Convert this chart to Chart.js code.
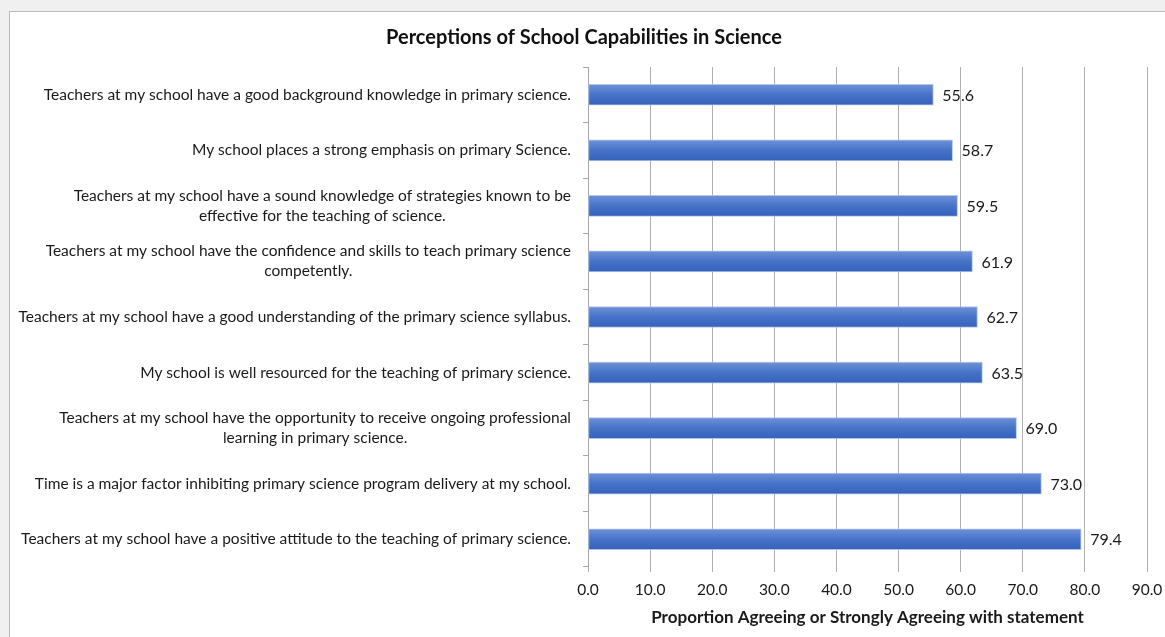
<!DOCTYPE html>
<html>
<head>
<meta charset="utf-8">
<script src="https://cdn.jsdelivr.net/npm/chart.js@4.4.1/dist/chart.umd.min.js"></script>
<style>
  html, body { margin: 0; padding: 0; background: #f0f0f0; width: 1165px; height: 637px; overflow: hidden; }
  #frame { position: absolute; left: 9px; top: 11px; right: 0; bottom: 0; background: #fff;
           border-left: 1px solid #b9b9b9; border-top: 1px solid #b9b9b9; }
  #wrap { position: absolute; left: 10px; top: 12px; width: 1155px; height: 625px; }
</style>
</head>
<body>
<div id="frame"></div>
<div id="wrap"><canvas id="chart" width="1155" height="625"></canvas></div>
<script>
// statements, top to bottom
const categories = [
    'Teachers at my school have a good background knowledge in primary science.',
    'My school places a strong emphasis on primary Science.',
    ['Teachers at my school have a sound knowledge of strategies known to be', 'effective for the teaching of science.'],
    ['Teachers at my school have the confidence and skills to teach primary science', 'competently.'],
    'Teachers at my school have a good understanding of the primary science syllabus.',
    'My school is well resourced for the teaching of primary science.',
    ['Teachers at my school have the opportunity to receive ongoing professional', 'learning in primary science.'],
    'Time is a major factor inhibiting primary science program delivery at my school.',
    'Teachers at my school have a positive attitude to the teaching of primary science.'
];
const values = [55.6, 58.7, 59.5, 61.9, 62.7, 63.5, 69.0, 73.0, 79.4];
const xTicks = [0, 10, 20, 30, 40, 50, 60, 70, 80, 90];

const FONT = 'Lato, "Open Sans", sans-serif';
const BAR_H = 21;

// vertical gradient per bar, like the office "shaded" fill
function barFill(ctx) {
    const chart = ctx.chart;
    const y = chart.scales.y;
    if (!chart.chartArea || !y || ctx.type !== 'data') return '#4472c4';
    const c = y.getPixelForValue(ctx.dataIndex);
    const g = chart.ctx.createLinearGradient(0, c - BAR_H / 2, 0, c + BAR_H / 2);
    g.addColorStop(0, '#6f91d8');
    g.addColorStop(0.5, '#4673c8');
    g.addColorStop(1, '#3561bb');
    return g;
}

// category text: each label block right-aligned, its lines centred
const categoryLabels = {
    id: 'categoryLabels',
    afterDraw(chart) {
        const y = chart.scales.y;
        const ctx = chart.ctx;
        ctx.save();
        ctx.font = '15.5px ' + FONT;
        ctx.fillStyle = '#1a1a1a';
        ctx.textAlign = 'center';
        ctx.textBaseline = 'middle';
        const right = y.right - 17;
        categories.forEach((lab, i) => {
            const lines = Array.isArray(lab) ? lab : [lab];
            const w = Math.max(...lines.map(l => ctx.measureText(l).width));
            const cx = right - w / 2;
            const c = y.getPixelForValue(i);
            lines.forEach((l, k) => ctx.fillText(l, cx, c + (k - (lines.length - 1) / 2) * 20));
        });
        ctx.restore();
    }
};

const valueLabels = {
    id: 'valueLabels',
    afterDatasetsDraw(chart) {
        const ctx = chart.ctx;
        const meta = chart.getDatasetMeta(0);
        ctx.save();
        ctx.font = '16px ' + FONT;
        ctx.fillStyle = '#1a1a1a';
        ctx.textAlign = 'left';
        ctx.textBaseline = 'middle';
        meta.data.forEach((bar, i) => ctx.fillText(values[i].toFixed(1), bar.x + 9, bar.y + 1));
        ctx.restore();
    }
};

new Chart(document.getElementById('chart'), {
    type: 'bar',
    data: {
        labels: categories,
        datasets: [{
            data: values,
            backgroundColor: barFill,
            borderColor: 'rgba(170, 192, 235, 0.9)',
            borderWidth: 1,
            borderSkipped: false,
            barThickness: BAR_H
        }]
    },
    options: {
        indexAxis: 'y',
        responsive: false,
        animation: false,
        devicePixelRatio: 1,
        layout: { padding: { left: 11, right: 18, top: 0, bottom: 7.4 } },
        scales: {
            x: {
                min: 0,
                max: 90,
                afterBuildTicks: (scale) => { scale.ticks = xTicks.map(v => ({ value: v })); },
                afterFit: (scale) => { scale.paddingLeft = 0; scale.paddingRight = 0; },
                ticks: {
                    callback: (v) => Number(v).toFixed(1),
                    font: { family: FONT, size: 15.5 },
                    color: '#1a1a1a',
                    padding: 9,
                    maxRotation: 0
                },
                grid: { color: '#b0b0b0', tickLength: 5 },
                border: { display: false },
                title: {
                    display: true,
                    text: 'Proportion Agreeing or Strongly Agreeing with statement',
                    font: { family: FONT, size: 17, weight: 'bold', lineHeight: 1 },
                    color: '#1a1a1a',
                    padding: { top: 0, bottom: 4 }
                }
            },
            y: {
                afterFit: (scale) => { scale.width = 567; },
                ticks: { color: 'transparent' },
                grid: { drawOnChartArea: false, color: '#a6a6a6', tickLength: 5, offset: true },
                border: { display: true, color: '#a6a6a6' }
            }
        },
        plugins: {
            legend: { display: false },
            tooltip: { enabled: false },
            title: {
                display: true,
                text: 'Perceptions of School Capabilities in Science',
                font: { family: FONT, size: 20, weight: 'bold' },
                color: '#111',
                padding: { top: 14, bottom: 17 }
            }
        }
    },
    plugins: [categoryLabels, valueLabels]
});
</script>
</body>
</html>
